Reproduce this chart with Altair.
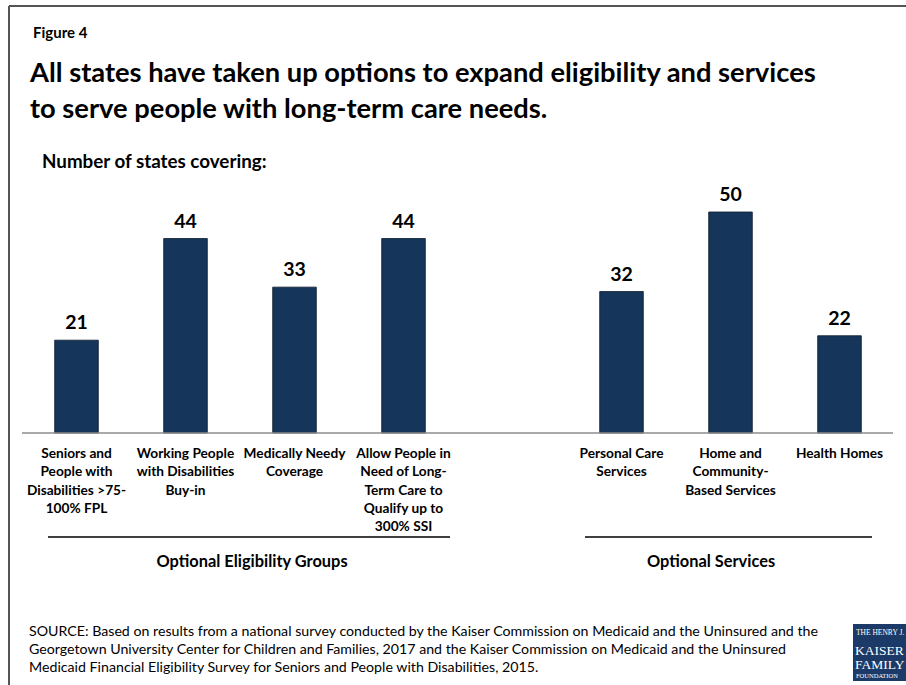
import altair as alt
import pandas as pd

# ---- data ----
categories = [
    "Seniors and People with Disabilities >75-100% FPL",
    "Working People with Disabilities Buy-in",
    "Medically Needy Coverage",
    "Allow People in Need of Long-Term Care to Qualify up to 300% SSI",
    "Personal Care Services",
    "Home and Community-Based Services",
    "Health Homes",
]
tick_labels = [
    "Seniors and\nPeople with\nDisabilities >75-\n100% FPL",
    "Working People\nwith Disabilities\nBuy-in",
    "Medically Needy\nCoverage",
    "Allow People in\nNeed of Long-\nTerm Care to\nQualify up to\n300% SSI",
    "Personal Care\nServices",
    "Home and\nCommunity-\nBased Services",
    "Health Homes",
]
values = [21, 44, 33, 44, 32, 50, 22]
groups = ["Optional Eligibility Groups"] * 4 + ["Optional Services"] * 3
group_names = ["Optional Eligibility Groups", "Optional Services"]

title_lines = [
    "All states have taken up options to expand eligibility and services",
    "to serve people with long-term care needs.",
]
source_lines = [
    "SOURCE: Based on results from a national survey conducted by the Kaiser Commission on Medicaid and the Uninsured and the",
    "Georgetown University Center for Children and Families, 2017 and the Kaiser Commission on Medicaid and the Uninsured",
    "Medicaid Financial Eligibility Survey for Seniors and People with Disabilities, 2015.",
]

SPACER = " "
domain = categories[:4] + [SPACER] + categories[4:]

df = pd.DataFrame({"cat": categories, "label": tick_labels, "value": values, "group": groups})

FONT = "Lato"
NAVY = "#15355A"

x = alt.X("cat:N", scale=alt.Scale(domain=domain, paddingInner=0.6, paddingOuter=0.3), axis=None)
y = alt.Y("value:Q", scale=alt.Scale(domain=[0, 50], nice=False), axis=None)

base = alt.Chart(df)

bars = base.mark_bar(color=NAVY, stroke="#0b1a2b", strokeWidth=0.8).encode(x=x, y=y)

vals = base.mark_text(font=FONT, fontWeight="bold", fontSize=19.5, dy=-11, baseline="alphabetic", color="#000").encode(
    x=x, y=y, text="value:Q")

cat_labels = base.mark_text(font=FONT, fontWeight="bold", fontSize=13.7, baseline="top", lineBreak="\n",
                            lineHeight=18.3, color="#000", align="center").encode(
    x=x, y=alt.value(235), text="label:N")

one = alt.Data(values=[{}])

def txt(s, xv, yv, size, weight="bold", align="left", color="#000", font=FONT):
    return alt.Chart(one).mark_text(text=s, font=font, fontSize=size, fontWeight=weight, align=align,
                                    baseline="alphabetic", color=color).encode(
        x=alt.value(xv), y=alt.value(yv))

def rule(x1, x2, y1, y2, color, width):
    return alt.Chart(one).mark_rule(color=color, strokeWidth=width).encode(
        x=alt.value(x1), x2=alt.value(x2), y=alt.value(y1), y2=alt.value(y2))

baseline_rule = rule(0, 871, 221, 221, "#8c8c8c", 1.5)
frame_top = rule(-13, 890, -206, -206, "#555555", 2)
frame_left = rule(-13, -13, -206, 480, "#555555", 2)

layers = [frame_top, frame_left, bars, baseline_rule, vals, cat_labels]

layers.append(txt("Figure 4", 11, -174, 15))
layers.append(txt(title_lines[0], 8, -130, 27.3))
layers.append(txt(title_lines[1], 8, -94, 27.3))
layers.append(txt("Number of states covering:", 20, -44, 18.8))

# group lines and labels
layers.append(rule(26, 428, 325, 325, "#000", 1.5))
layers.append(rule(563, 850, 325, 325, "#000", 1.5))
layers.append(txt(group_names[0], 230, 355, 16.4, align="center"))
layers.append(txt(group_names[1], 689, 355, 16.4, align="center"))

# source
for i, s in enumerate(source_lines):
    layers.append(txt(s, 7, 424 + 18 * i, 14.2, weight="normal"))

# logo
logo = alt.Chart(one).mark_rect(color="#1b3a68").encode(
    x=alt.value(831), x2=alt.value(895), y=alt.value(412), y2=alt.value(469))
layers.append(logo)
SERIF = "Liberation Serif"
layers.append(txt("THE HENRY J.", 834, 423, 7.5, weight="normal", color="white", font=SERIF))
layers.append(txt("KAISER", 833, 443, 13.5, weight="normal", color="white", font=SERIF))
layers.append(txt("FAMILY", 833, 457, 13.5, weight="normal", color="white", font=SERIF))
layers.append(txt("FOUNDATION", 834, 466, 6.5, weight="normal", color="white", font=SERIF))

chart = alt.layer(*layers).properties(
    width=872, height=221,
    autosize=alt.AutoSizeParams(type="none"),
    padding={"left": 22, "top": 212, "right": 12, "bottom": 252},
    background="white",
).configure_view(stroke=None)

chart.save("out.html", embed_options={"renderer": "svg", "actions": False})
